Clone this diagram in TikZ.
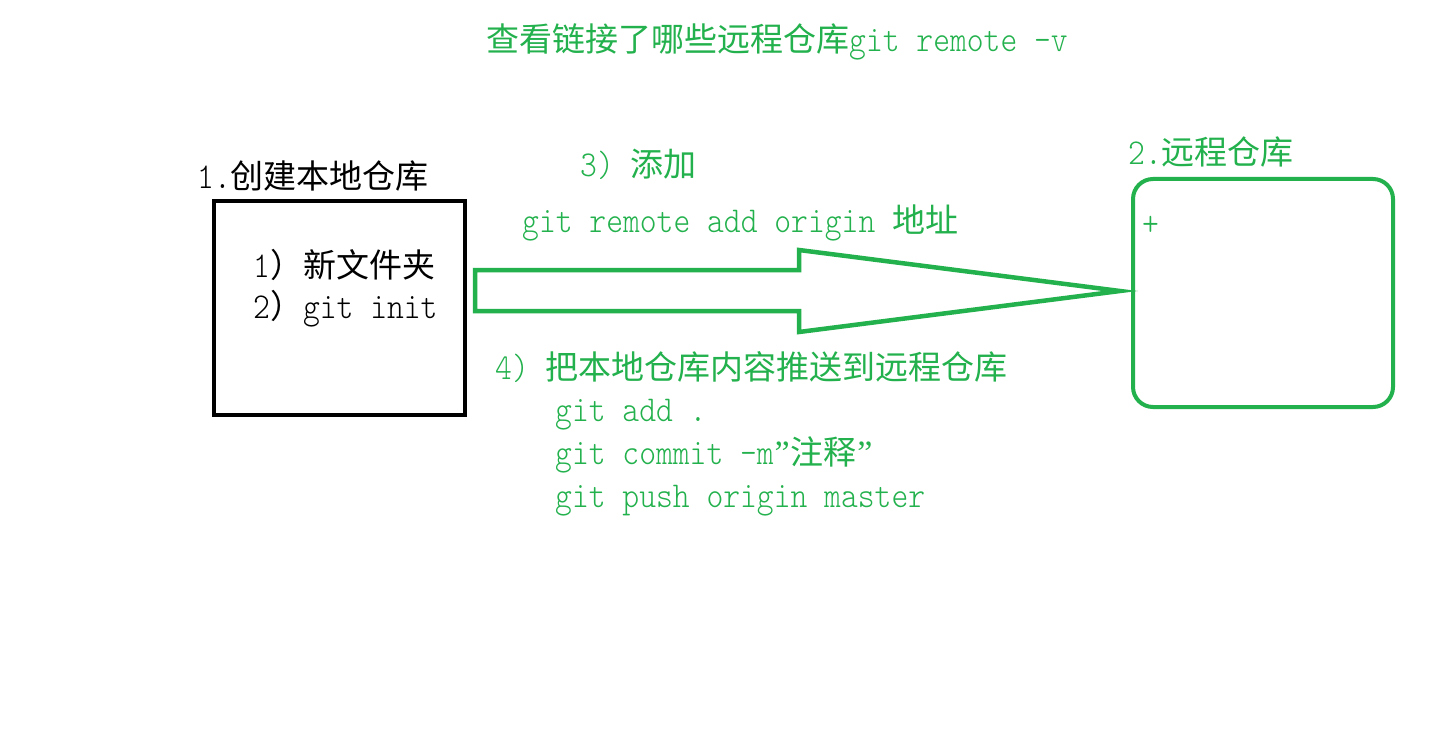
\documentclass[tikz,border=0pt]{standalone}
\usepackage{fontspec}
\setmonofont{lmmonolt10-regular.otf}[FakeStretch=0.88]
\newfontfamily\cjk{Noto Sans CJK SC}
\newfontfamily\qfont{Liberation Serif}
\definecolor{pgreen}{RGB}{34,177,76}
\newcommand{\zh}[1]{{\cjk\fontsize{33}{40}\selectfont #1}}
\newcommand{\myrquote}{\makebox[16.8pt][c]{\qfont\fontsize{34}{40}\selectfont ”}}
\tikzset{
  lbl/.style={anchor=base west, inner sep=0pt, font=\ttfamily\fontsize{36.4}{42}\selectfont},
  gl/.style={lbl, text=pgreen},
  localbox/.style={draw=black, line width=4pt, rectangle, inner sep=0pt, minimum width=251pt, minimum height=214pt},
  remotebox/.style={draw=pgreen, line width=4pt, rectangle, rounded corners=20pt, inner sep=0pt, minimum width=260pt, minimum height=228pt},
  blockarrow/.style={draw=pgreen, line width=4.5pt, line join=miter}
}
\begin{document}
\begin{tikzpicture}[x=1pt,y=-1pt]
\fill[white] (0,0) rectangle (1442,730);
\useasboundingbox (0,0) rectangle (1442,730);
\node[localbox] (local) at (339.5,308) {};
\node[remotebox] (remote) at (1263,293) {};
\draw[blockarrow] (475,270) -- (799,270) -- (799,250) -- (1120,291) coordinate (tip) -- (799,332) -- (799,311) -- (475,311) -- cycle;
\node[gl] (title) at (486,52) {\zh{查看链接了哪些远程仓库}git remote -v};
\node[lbl] (t1) at (197,189) {1.\zh{创建本地仓库}};
\node[lbl] (s1) at (253,277) {1\zh{）新文件夹}};
\node[lbl] (s2) at (253,318) {2\zh{）}git init};
\node[gl] (s3) at (580,177) {3) \zh{添加}};
\node[gl] (c3) at (522,232) {git remote add origin \zh{地址}};
\node[gl] (t2) at (1128,165) {2.\zh{远程仓库}};
\node[gl] (s4) at (495,379) {4) \zh{把本地仓库内容推送到远程仓库}};
\node[gl] (c4a) at (555,421) {git add .};
\node[gl] (c4b) at (555,464) {git commit -m\myrquote\zh{注释}\myrquote};
\node[gl] (c4c) at (555,507) {git push origin master};
\node[gl] (plus) at (1142,235) {+};
\end{tikzpicture}
\end{document}
